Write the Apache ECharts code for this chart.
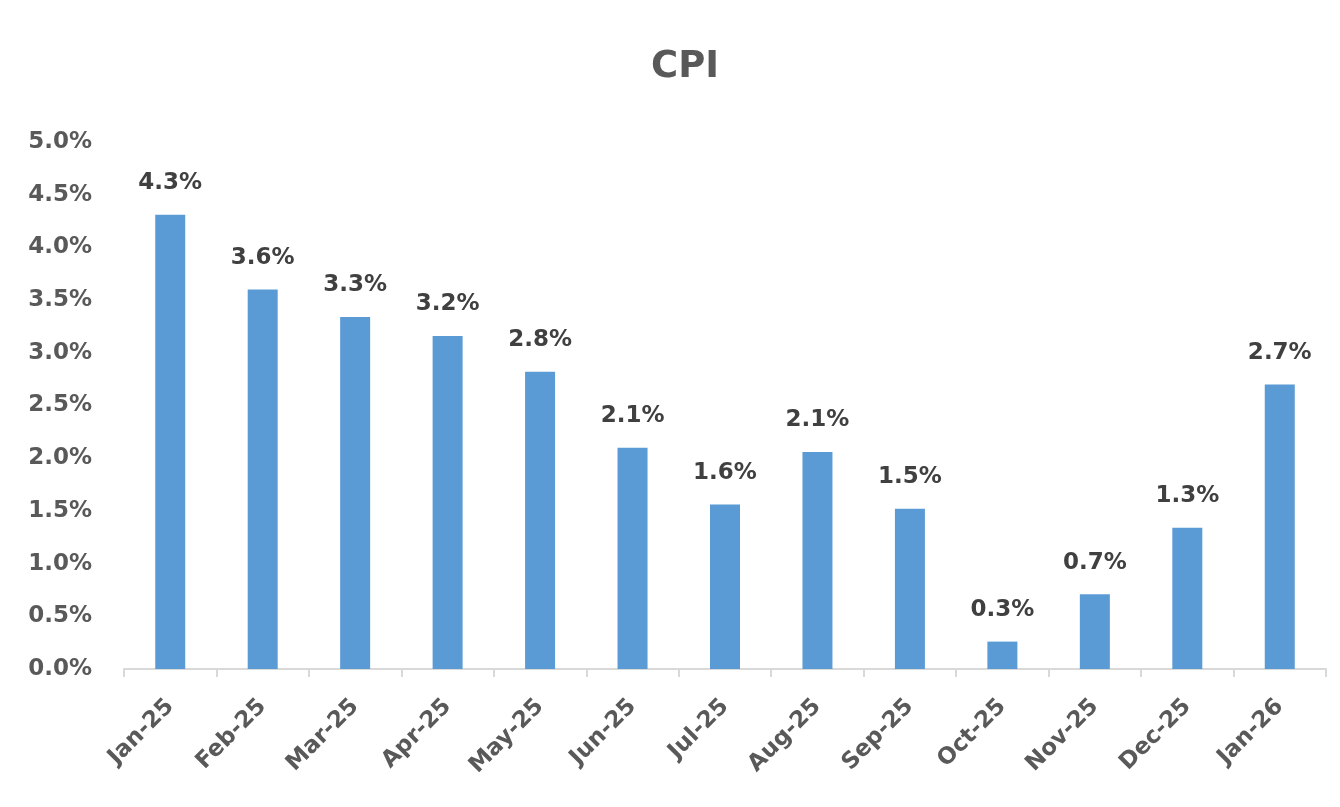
<!DOCTYPE html>
<html><head><meta charset="utf-8">
<script src="https://cdn.jsdelivr.net/npm/echarts@6/dist/echarts.min.js"></script>
<style>html,body{margin:0;padding:0;background:#fff}#c{width:1340px;height:807px}</style>
</head><body><div id="c"></div>
<script>
var categories = ['Jan-25','Feb-25','Mar-25','Apr-25','May-25','Jun-25','Jul-25','Aug-25','Sep-25','Oct-25','Nov-25','Dec-25','Jan-26'];
var cpiValues = [4.31, 3.60, 3.34, 3.16, 2.82, 2.10, 1.56, 2.06, 1.52, 0.26, 0.71, 1.34, 2.70];
var chartTitle = 'CPI';

var chart = echarts.init(document.getElementById('c'));
var font = 'DejaVu Sans';
chart.setOption({
  animation: false,
  backgroundColor: '#fff',
  title: { text: chartTitle, left: 646, top: 44,
    textStyle: { fontFamily: font, fontSize: 37, fontWeight: 'bold', color: '#595959' } },
  grid: { left: 124, right: 14, top: 142, bottom: 138, containLabel: false },
  xAxis: { type: 'category', data: categories,
    axisLine: { lineStyle: { color: '#D9D9D9', width: 2 } },
    axisTick: { show: true, length: 8, lineStyle: { color: '#D9D9D9', width: 2 } },
    axisLabel: { rotate: 45, margin: 34, fontFamily: font, fontSize: 23, fontWeight: 'bold', color: '#595959' } },
  yAxis: { type: 'value', min: 0, max: 5, interval: 0.5,
    splitLine: { show: false }, axisLine: { show: false }, axisTick: { show: false },
    axisLabel: { margin: 32, fontFamily: font, fontSize: 23, fontWeight: 'bold', color: '#595959',
      formatter: function (v) { return v.toFixed(1) + '%'; } } },
  series: [{ type: 'bar', data: cpiValues, barWidth: 30,
    itemStyle: { color: '#5B9BD5' },
    label: { show: true, position: 'top', distance: 20, fontFamily: font, fontSize: 23, fontWeight: 'bold', color: '#404040',
      formatter: function (p) { return p.value.toFixed(1) + '%'; } } }]
});
</script></body></html>
